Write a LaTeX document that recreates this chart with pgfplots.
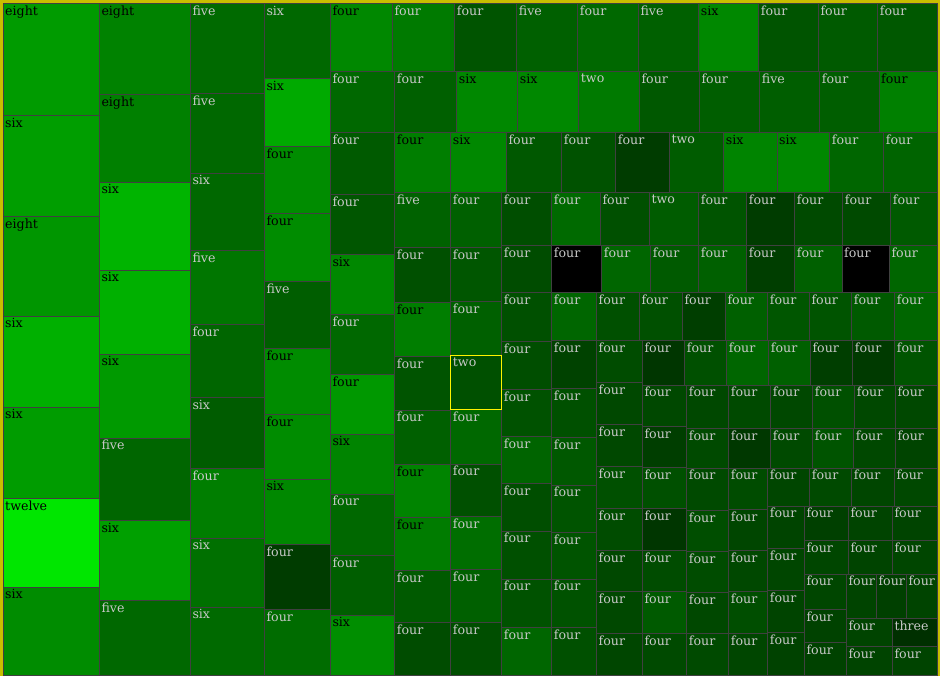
\documentclass[border=0pt]{standalone}
\usepackage{fontspec}
\setmainfont{DejaVu Serif}
\usepackage{pgfplots}
\pgfplotsset{compat=1.18}
\definecolor{frm}{RGB}{200,190,0}
\definecolor{bord}{RGB}{64,64,64}
\definecolor{lt}{RGB}{200,200,200}
\definecolor{dk}{RGB}{0,0,0}
\newcommand{\C}[7]{%
  \addplot[draw=bord, line width=1pt, fill={rgb,255:red,0;green,#5;blue,0}] coordinates {(#1,#2) (#3,#2) (#3,#4) (#1,#4)} --cycle;
  \node[anchor=north west, inner sep=0pt, text=#7, font=\fontsize{12.6}{12.6}\selectfont, xshift=2pt, yshift=-2pt] at (axis cs:#1,#2) {#6};
}
\begin{document}
\begin{tikzpicture}
\begin{axis}[
  width=940pt, height=676pt, scale only axis,
  xmin=0, xmax=940, ymin=0, ymax=676, y dir=reverse,
  hide axis, clip=true,
]
\addplot[draw=none, fill=frm] coordinates {(0,0) (940,0) (940,676) (0,676)} --cycle;
% Column A
\C{3}{4}{99.3}{115.7}{155}{eight}{dk}
\C{3}{115.7}{99.3}{216.3}{158}{six}{dk}
\C{3}{216.3}{99.3}{316.3}{150}{eight}{dk}
\C{3}{316.3}{99.3}{407.3}{176}{six}{dk}
\C{3}{407.3}{99.3}{498.3}{156}{six}{dk}
\C{3}{498.3}{99.3}{587.3}{230}{twelve}{dk}
\C{3}{587.3}{99.3}{675.3}{140}{six}{dk}
% Column B
\C{99.3}{4}{190.3}{94.3}{130}{eight}{dk}
\C{99.3}{94.3}{190.3}{182.3}{128}{eight}{dk}
\C{99.3}{182.3}{190.3}{270.3}{180}{six}{dk}
\C{99.3}{270.3}{190.3}{354.3}{176}{six}{dk}
\C{99.3}{354.3}{190.3}{438}{154}{six}{dk}
\C{99.3}{438}{190.3}{520.7}{102}{five}{lt}
\C{99.3}{520.7}{190.3}{600.3}{160}{six}{dk}
\C{99.3}{600.3}{190.3}{675.3}{104}{five}{lt}
% Column C
\C{190.3}{4}{264.3}{93.7}{106}{five}{lt}
\C{190.3}{93.7}{264.3}{173.3}{104}{five}{lt}
\C{190.3}{173.3}{264.3}{250.3}{104}{six}{lt}
\C{190.3}{250.3}{264.3}{325}{118}{five}{lt}
\C{190.3}{325}{264.3}{397.7}{102}{four}{lt}
\C{190.3}{397.7}{264.3}{468.3}{92}{six}{lt}
\C{190.3}{468.3}{264.3}{538.3}{126}{four}{lt}
\C{190.3}{538.3}{264.3}{607.3}{112}{six}{lt}
\C{190.3}{607.3}{264.3}{675.3}{106}{six}{lt}
% Column D
\C{264.3}{4}{330.3}{78.7}{104}{six}{lt}
\C{264.3}{78.7}{330.3}{147}{170}{six}{dk}
\C{264.3}{147}{330.3}{214}{140}{four}{dk}
\C{264.3}{214}{330.3}{281.3}{140}{four}{dk}
\C{264.3}{281.3}{330.3}{348.3}{94}{five}{lt}
\C{264.3}{348.3}{330.3}{414.3}{140}{four}{dk}
\C{264.3}{414.3}{330.3}{479.3}{140}{four}{dk}
\C{264.3}{479.3}{330.3}{544.3}{136}{six}{dk}
\C{264.3}{544.3}{330.3}{609.3}{60}{four}{lt}
\C{264.3}{609.3}{330.3}{675.3}{108}{four}{lt}
% Row 1
\C{330.3}{4}{392.3}{72}{136}{four}{dk}
\C{392.3}{4}{454.7}{72}{122}{four}{lt}
\C{454.7}{4}{516.7}{72}{84}{four}{lt}
\C{516.7}{4}{577.7}{72}{96}{five}{lt}
\C{577.7}{4}{638.3}{72}{104}{four}{lt}
\C{638.3}{4}{698.7}{72}{96}{five}{lt}
\C{698.7}{4}{758.7}{72}{136}{six}{dk}
\C{758.7}{4}{818.3}{72}{84}{four}{lt}
\C{818.3}{4}{877.7}{72}{90}{four}{lt}
\C{877.7}{4}{937.3}{72}{88}{four}{lt}
% Row 2
\C{330.3}{72}{394.7}{132.7}{104}{four}{lt}
\C{394.7}{72}{456.7}{132.7}{96}{four}{lt}
\C{456.7}{72}{517.7}{132.7}{136}{six}{dk}
\C{517.7}{72}{578.7}{132.7}{136}{six}{dk}
\C{578.7}{72}{639.3}{132.7}{122}{two}{lt}
\C{639.3}{72}{699.3}{132.7}{88}{four}{lt}
\C{699.3}{72}{759.7}{132.7}{94}{four}{lt}
\C{759.7}{72}{819.7}{132.7}{94}{five}{lt}
\C{819.7}{72}{879}{132.7}{94}{four}{lt}
\C{879}{72}{937.3}{132.7}{128}{four}{dk}
% Column E
\C{330.3}{132.7}{394.7}{194.3}{90}{four}{lt}
\C{330.3}{194.3}{394.7}{254.7}{86}{four}{lt}
\C{330.3}{254.7}{394.7}{314.3}{136}{six}{dk}
\C{330.3}{314.3}{394.7}{374.3}{104}{four}{lt}
\C{330.3}{374.3}{394.7}{434.3}{152}{four}{dk}
\C{330.3}{434.3}{394.7}{494}{132}{six}{dk}
\C{330.3}{494}{394.7}{555.3}{104}{four}{lt}
\C{330.3}{555.3}{394.7}{615.3}{94}{four}{lt}
\C{330.3}{615.3}{394.7}{675.3}{142}{six}{dk}
% Row 3
\C{394.7}{132.7}{450.7}{192.5}{126}{four}{dk}
\C{450.7}{132.7}{506.3}{192.5}{136}{six}{dk}
\C{506.3}{132.7}{561.7}{192.5}{88}{four}{lt}
\C{561.7}{132.7}{615.7}{192.5}{82}{four}{lt}
\C{615.7}{132.7}{669.3}{192.5}{60}{four}{lt}
\C{669.3}{132.7}{723.7}{192.5}{92}{two}{lt}
\C{723.7}{132.7}{777}{192.5}{132}{six}{dk}
\C{777}{132.7}{829.7}{192.5}{136}{six}{dk}
\C{829.7}{132.7}{883.7}{192.5}{102}{four}{lt}
\C{883.7}{132.7}{937.3}{192.5}{100}{four}{lt}
% Column F
\C{394.7}{192.5}{450.7}{247.3}{98}{five}{lt}
\C{394.7}{247.3}{450.7}{302.3}{80}{four}{lt}
\C{394.7}{302.3}{450.7}{356.3}{126}{four}{dk}
\C{394.7}{356.3}{450.7}{410}{84}{four}{lt}
\C{394.7}{410}{450.7}{464.3}{96}{four}{lt}
\C{394.7}{464.3}{450.7}{517.3}{132}{four}{dk}
\C{394.7}{517.3}{450.7}{570.3}{124}{four}{dk}
\C{394.7}{570.3}{450.7}{622.3}{90}{four}{lt}
\C{394.7}{622.3}{450.7}{675.3}{76}{four}{lt}
% Column G
\C{450.7}{192.5}{501.7}{247.3}{96}{four}{lt}
\C{450.7}{247.3}{501.7}{301.3}{86}{four}{lt}
\C{450.7}{301.3}{501.7}{355.3}{96}{four}{lt}
\C{450.7}{355.3}{501.7}{409.3}{80}{two}{lt}
\C{450.7}{409.3}{501.7}{464}{104}{four}{lt}
\C{450.7}{464}{501.7}{516.3}{80}{four}{lt}
\C{450.7}{516.3}{501.7}{569.3}{110}{four}{lt}
\C{450.7}{569.3}{501.7}{622.3}{96}{four}{lt}
\C{450.7}{622.3}{501.7}{675.3}{78}{four}{lt}
% Strip rows
\C{501.7}{192.5}{551.7}{245.3}{78}{four}{lt}
\C{551.7}{192.5}{600.3}{245.3}{106}{four}{lt}
\C{600.3}{192.5}{649.3}{245.3}{80}{four}{lt}
\C{649.3}{192.5}{698.7}{245.3}{92}{two}{lt}
\C{698.7}{192.5}{746.7}{245.3}{84}{four}{lt}
\C{746.7}{192.5}{794.7}{245.3}{60}{four}{lt}
\C{794.7}{192.5}{842.7}{245.3}{74}{four}{lt}
\C{842.7}{192.5}{890.7}{245.3}{74}{four}{lt}
\C{890.7}{192.5}{937.3}{245.3}{90}{four}{lt}
\C{501.7}{245.3}{551.7}{292.8}{76}{four}{lt}
\C{551.7}{245.3}{601.7}{292.8}{0}{four}{lt}
\C{601.7}{245.3}{650.7}{292.8}{102}{four}{lt}
\C{650.7}{245.3}{698.7}{292.8}{90}{four}{lt}
\C{698.7}{245.3}{746.7}{292.8}{96}{four}{lt}
\C{746.7}{245.3}{794.7}{292.8}{62}{four}{lt}
\C{794.7}{245.3}{842}{292.8}{96}{four}{lt}
\C{842}{245.3}{889.3}{292.8}{0}{four}{lt}
\C{889.3}{245.3}{937.3}{292.8}{102}{four}{lt}
% Column H
\C{501.7}{292.8}{551.7}{341.3}{80}{four}{lt}
\C{501.7}{341.3}{551.7}{389.3}{78}{four}{lt}
\C{501.7}{389.3}{551.7}{436.3}{82}{four}{lt}
\C{501.7}{436.3}{551.7}{483.3}{100}{four}{lt}
\C{501.7}{483.3}{551.7}{531}{78}{four}{lt}
\C{501.7}{531}{551.7}{579}{80}{four}{lt}
\C{501.7}{579}{551.7}{627.3}{82}{four}{lt}
\C{501.7}{627.3}{551.7}{675.3}{102}{four}{lt}
% Column I
\C{551.7}{292.8}{596.5}{340.7}{102}{four}{lt}
\C{551.7}{340.7}{596.5}{388.3}{66}{four}{lt}
\C{551.7}{388.3}{596.5}{437.3}{80}{four}{lt}
\C{551.7}{437.3}{596.5}{485}{88}{four}{lt}
\C{551.7}{485}{596.5}{532.3}{84}{four}{lt}
\C{551.7}{532.3}{596.5}{579}{84}{four}{lt}
\C{551.7}{579}{596.5}{627.3}{82}{four}{lt}
\C{551.7}{627.3}{596.5}{675.3}{80}{four}{lt}
% Row 292-340
\C{596.5}{292.8}{639.3}{340.3}{80}{four}{lt}
\C{639.3}{292.8}{682.3}{340.3}{80}{four}{lt}
\C{682.3}{292.8}{725.3}{340.3}{62}{four}{lt}
\C{725.3}{292.8}{767.7}{340.3}{96}{four}{lt}
\C{767.7}{292.8}{809.3}{340.3}{86}{four}{lt}
\C{809.3}{292.8}{851.7}{340.3}{84}{four}{lt}
\C{851.7}{292.8}{894.7}{340.3}{90}{four}{lt}
\C{894.7}{292.8}{937.3}{340.3}{102}{four}{lt}
% Col 1
\C{596.5}{340.3}{642.3}{382.3}{76}{four}{lt}
\C{596.5}{382.3}{642.3}{424.3}{72}{four}{lt}
\C{596.5}{424.3}{642.3}{466.3}{72}{four}{lt}
\C{596.5}{466.3}{642.3}{508.3}{80}{four}{lt}
\C{596.5}{508.3}{642.3}{550.3}{76}{four}{lt}
\C{596.5}{550.3}{642.3}{591.3}{72}{four}{lt}
\C{596.5}{591.3}{642.3}{633.3}{72}{four}{lt}
\C{596.5}{633.3}{642.3}{675.3}{70}{four}{lt}
% Row A
\C{642.3}{340.3}{684.7}{385}{54}{four}{lt}
\C{684.7}{340.3}{726.7}{385}{80}{four}{lt}
\C{726.7}{340.3}{768.7}{385}{102}{four}{lt}
\C{768.7}{340.3}{810.3}{385}{96}{four}{lt}
\C{810.3}{340.3}{852.7}{385}{62}{four}{lt}
\C{852.7}{340.3}{894.7}{385}{58}{four}{lt}
\C{894.7}{340.3}{937.3}{385}{84}{four}{lt}
% Col 2
\C{642.3}{385}{686.7}{426.3}{72}{four}{lt}
\C{642.3}{426.3}{686.7}{467.3}{62}{four}{lt}
\C{642.3}{467.3}{686.7}{508.7}{80}{four}{lt}
\C{642.3}{508.7}{686.7}{550.3}{54}{four}{lt}
\C{642.3}{550.3}{686.7}{591.3}{76}{four}{lt}
\C{642.3}{591.3}{686.7}{633.3}{90}{four}{lt}
\C{642.3}{633.3}{686.7}{675.3}{74}{four}{lt}
% Row B
\C{686.7}{385}{728.7}{428.3}{72}{four}{lt}
\C{728.7}{385}{770.7}{428.3}{74}{four}{lt}
\C{770.7}{385}{812.7}{428.3}{72}{four}{lt}
\C{812.7}{385}{854.7}{428.3}{80}{four}{lt}
\C{854.7}{385}{895.3}{428.3}{72}{four}{lt}
\C{895.3}{385}{937.3}{428.3}{72}{four}{lt}
% Col 3
\C{686.7}{428.3}{728.7}{468}{74}{four}{lt}
\C{686.7}{468}{728.7}{510.3}{74}{four}{lt}
\C{686.7}{510.3}{728.7}{551.3}{78}{four}{lt}
\C{686.7}{551.3}{728.7}{592.3}{76}{four}{lt}
\C{686.7}{592.3}{728.7}{633.3}{72}{four}{lt}
\C{686.7}{633.3}{728.7}{675.3}{74}{four}{lt}
% Row C
\C{728.7}{428.3}{770.7}{468}{56}{four}{lt}
\C{770.7}{428.3}{812.7}{468}{74}{four}{lt}
\C{812.7}{428.3}{853.7}{468}{84}{four}{lt}
\C{853.7}{428.3}{895.3}{468}{72}{four}{lt}
\C{895.3}{428.3}{937.3}{468}{68}{four}{lt}
% Col 4
\C{728.7}{468}{767.7}{509.3}{76}{four}{lt}
\C{728.7}{509.3}{767.7}{550.3}{70}{four}{lt}
\C{728.7}{550.3}{767.7}{591.3}{72}{four}{lt}
\C{728.7}{591.3}{767.7}{633.3}{78}{four}{lt}
\C{728.7}{633.3}{767.7}{675.3}{70}{four}{lt}
% Row D
\C{767.7}{468}{809.7}{506}{70}{four}{lt}
\C{809.7}{468}{851.7}{506}{74}{four}{lt}
\C{851.7}{468}{894.3}{506}{70}{four}{lt}
\C{894.3}{468}{937.3}{506}{72}{four}{lt}
% Col 5
\C{767.7}{506}{804.3}{548.3}{68}{four}{lt}
\C{767.7}{548.3}{804.3}{590.3}{70}{four}{lt}
\C{767.7}{590.3}{804.3}{632.3}{68}{four}{lt}
\C{767.7}{632.3}{804.3}{675.3}{66}{four}{lt}
% Rows E, F
\C{804.3}{506}{848.3}{540.3}{64}{four}{lt}
\C{848.3}{506}{892.3}{540.3}{68}{four}{lt}
\C{892.3}{506}{937.3}{540.3}{68}{four}{lt}
\C{804.3}{540.3}{848.3}{574}{70}{four}{lt}
\C{848.3}{540.3}{892.3}{574}{68}{four}{lt}
\C{892.3}{540.3}{937.3}{574}{70}{four}{lt}
% Col 6
\C{804.3}{574}{846.3}{609.3}{70}{four}{lt}
\C{804.3}{609.3}{846.3}{642.3}{66}{four}{lt}
\C{804.3}{642.3}{846.3}{675.3}{66}{four}{lt}
% Row G
\C{846.3}{574}{876.3}{618.3}{68}{four}{lt}
\C{876.3}{574}{906.3}{618.3}{64}{four}{lt}
\C{906.3}{574}{937.3}{618.3}{68}{four}{lt}
% Last
\C{846.3}{618.3}{892.3}{646.3}{68}{four}{lt}
\C{892.3}{618.3}{937.3}{646.3}{48}{three}{lt}
\C{846.3}{646.3}{892.3}{675.3}{68}{four}{lt}
\C{892.3}{646.3}{937.3}{675.3}{68}{four}{lt}
% highlighted cell
\addplot[draw=yellow, line width=1pt, fill=none] coordinates {(450.7,355.3) (501.7,355.3) (501.7,409.3) (450.7,409.3)} --cycle;
\end{axis}
\end{tikzpicture}
\end{document}
